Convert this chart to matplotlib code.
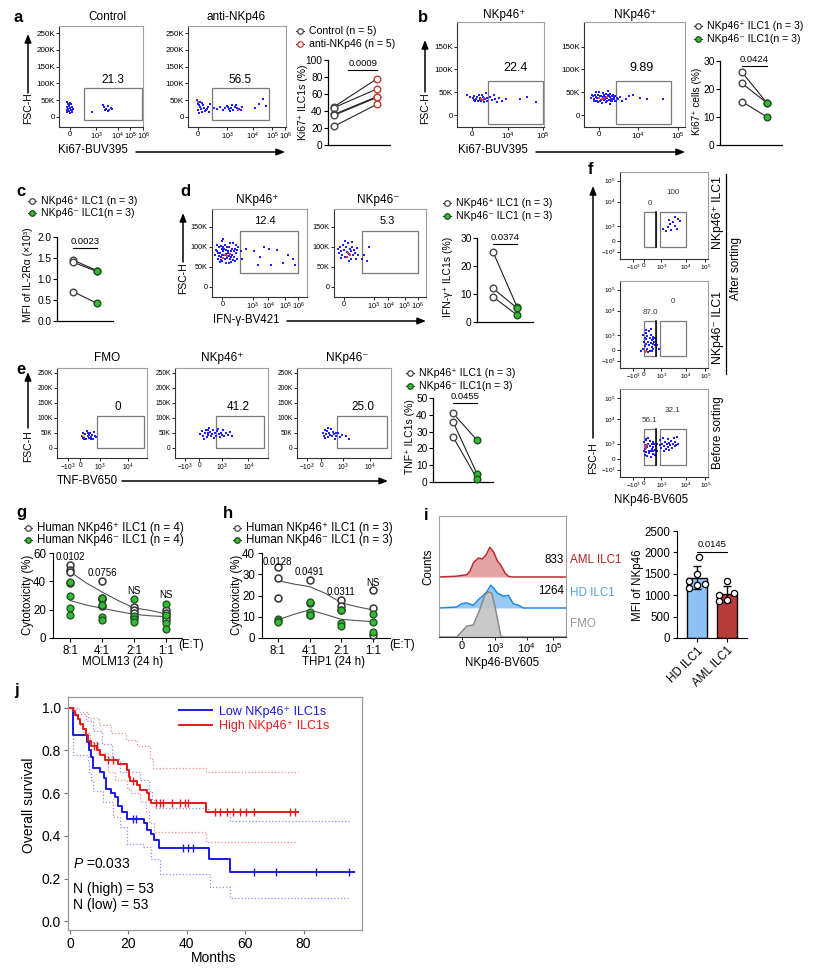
import numpy as np
import matplotlib
matplotlib.use("Agg")
import matplotlib.pyplot as plt
from matplotlib.patches import Rectangle

plt.rcParams["font.family"] = ["Liberation Sans", "DejaVu Sans"]
plt.rcParams["mathtext.fontset"] = "custom"
plt.rcParams["mathtext.rm"] = "Liberation Sans"
plt.rcParams["mathtext.it"] = "Liberation Sans:italic"
plt.rcParams["mathtext.bf"] = "Liberation Sans:bold"

# ---------------- data ----------------
# a - flow (x in channel units 0-100, y = FSC-H in K)
a_ctrl_x = [10, 11, 12, 10, 13, 11, 14, 12, 10, 13, 15, 16, 12, 14, 17, 11, 15, 13, 9, 16,
            39, 52, 54, 56, 58, 60, 62, 58, 55, 63]
a_ctrl_y = [45, 40, 35, 30, 28, 25, 22, 18, 15, 12, 20, 30, 32, 38, 25, 20, 15, 42, 22, 18,
            15, 35, 30, 25, 32, 20, 28, 18, 22, 24]
a_anti_x = [9, 10, 11, 12, 13, 10, 14, 15, 12, 16, 18, 20, 22, 17, 11, 19, 21, 14,
            27, 30, 33, 36, 38, 40, 42, 44, 45, 46, 48, 50, 52, 54, 55, 43, 41, 49, 72, 77, 80, 68]
a_anti_y = [50, 40, 35, 30, 25, 20, 15, 35, 45, 28, 22, 30, 38, 18, 12, 25, 15, 42,
            28, 25, 30, 22, 26, 32, 24, 28, 35, 20, 30, 27, 25, 22, 30, 18, 30, 35, 40, 52, 32, 28]
a_anti_red_x = [10, 51]
a_anti_red_y = [45, 20]
a_ctrl_pct = [45, 44, 36, 35, 22]
a_anti_pct = [78, 66, 57, 56, 48]

# b
b1_x = [12, 15, 18, 20, 22, 24, 25, 27, 28, 30, 31, 32, 33, 26, 23, 21, 19, 29, 34, 35,
        38, 40, 42, 44, 46, 48, 52, 56, 72, 80, 91]
b1_y = [45, 40, 38, 42, 35, 30, 45, 38, 32, 40, 28, 35, 48, 33, 39, 30, 34, 44, 30, 38,
        40, 33, 45, 36, 28, 38, 32, 35, 35, 40, 28]
b1_red_x = [28, 30, 31]
b1_red_y = [36, 34, 37]
b2_x = [7, 9, 10, 12, 13, 14, 15, 16, 17, 18, 19, 20, 21, 22, 23, 24, 25, 26, 27, 28,
        29, 30, 31, 33, 12, 18, 24, 11, 20, 26,
        8, 10, 11, 13, 14, 15, 16, 17, 19, 21, 22, 23, 25, 26, 27, 28, 29, 30, 31, 32,
        34, 36, 38, 42, 45, 49, 55, 62, 78]
b2_y = [38, 42, 35, 40, 32, 45, 38, 30, 42, 36, 48, 33, 40, 28, 37, 44, 34, 39, 30, 42,
        36, 40, 32, 38, 50, 26, 52, 30, 45, 25,
        45, 30, 44, 37, 28, 50, 41, 34, 39, 35, 46, 31, 41, 46, 36, 32, 44, 35, 42, 30,
        36, 40, 32, 36, 42, 45, 38, 36, 36]
b2_red_x = [15, 20, 23, 18]
b2_red_y = [38, 37, 40, 35]
b_pos_pct = [26, 22, 15.5]
b_neg_pct = [15, 15, 10]

# c
c_pos = [1.45, 1.40, 0.70]
c_neg = [1.20, 1.18, 0.42]

# d
d1_x = [3, 5, 6, 7, 8, 9, 10, 11, 12, 13, 14, 15, 16, 17, 18, 19, 20, 21, 22, 23,
        24, 25, 26, 27, 10, 15, 20, 5, 12, 18, 24, 8,
        4, 6, 9, 11, 13, 14, 16, 17, 18, 19, 21, 22, 23, 25, 26, 7, 9, 15, 20, 12,
        30, 32, 36, 44, 50, 55, 60, 68, 75, 80, 85, 87, 62, 48]
d1_y = [80, 90, 70, 100, 85, 75, 95, 65, 88, 78, 105, 92, 72, 84, 98, 68, 90, 80, 110, 75,
        95, 85, 70, 100, 115, 60, 62, 105, 120, 58, 65, 62,
        92, 84, 102, 78, 94, 70, 100, 88, 76, 108, 94, 66, 88, 104, 92, 76, 66, 82, 74, 98,
        88, 70, 95, 90, 75, 100, 95, 92, 60, 80, 70, 55, 55, 55]
d1_red_x = [14, 16, 12, 19]
d1_red_y = [80, 76, 72, 82]
d2_x = [4, 5, 7, 8, 9, 10, 11, 12, 13, 14, 15, 16, 17, 18, 19, 20, 21, 22, 23, 24,
        25, 26, 12, 16, 20, 8, 30, 33, 36, 38]
d2_y = [95, 85, 100, 90, 80, 105, 92, 75, 98, 86, 110, 82, 95, 70, 88, 100, 78, 92, 84, 68,
        96, 80, 115, 65, 112, 72, 70, 78, 65, 100]
d2_red_x = [15, 17, 14]
d2_red_y = [85, 78, 75]
d_pos_pct = [25, 12, 9]
d_neg_pct = [5.5, 5.0, 2.5]

# e
e1_x = [28, 29, 30, 31, 32, 33, 34, 35, 36, 37, 38, 39, 40, 41, 42, 43, 30, 34, 38, 29]
e1_y = [40, 50, 35, 45, 30, 55, 38, 42, 32, 48, 36, 44, 30, 52, 40, 35, 28, 50, 28, 33]
e1_yel_x = [29, 30]
e1_yel_y = [42, 38]
e2_x = [27, 29, 30, 32, 33, 34, 35, 36, 37, 38, 39, 40, 41, 42, 43, 44, 45, 46, 47, 48,
        49, 50, 52, 53, 55, 57, 59, 61, 31, 36]
e2_y = [45, 55, 40, 50, 60, 35, 48, 42, 65, 52, 38, 45, 58, 32, 50, 40, 55, 62, 45, 35,
        50, 42, 58, 38, 48, 44, 52, 40, 30, 58]
e3_x = [28, 29, 30, 31, 32, 33, 34, 35, 36, 37, 38, 39, 40, 41, 42, 44, 46, 48, 52, 55, 33, 30]
e3_y = [50, 40, 60, 45, 55, 35, 48, 42, 62, 38, 52, 45, 30, 50, 40, 48, 36, 44, 38, 30, 65, 32]
e_pos_pct = [41, 36, 27]
e_neg_pct = [25, 5, 2]

# f (both axes in channel units)
f1_x = [49, 52, 54, 56, 57, 58, 60, 62, 63, 65, 66, 68]
f1_y = [34, 32, 37, 45, 40, 33, 42, 38, 48, 35, 46, 44]
f2_x = [26, 27, 28, 28, 29, 30, 30, 31, 31, 32, 33, 33, 34, 34, 35, 35, 36, 36, 37, 37,
        38, 38, 39, 40, 40, 29, 32, 36, 41, 42, 26, 24, 44, 30, 35]
f2_y = [38, 30, 35, 25, 40, 28, 33, 22, 37, 30, 26, 42, 34, 20, 29, 38, 32, 24, 36, 28,
        33, 22, 30, 35, 26, 19, 18, 19, 31, 27, 22, 20, 22, 44, 45]
f2_red_x = [28, 29]
f2_red_y = [18, 20]
f3_x = [27, 28, 28, 29, 30, 30, 31, 31, 32, 33, 33, 34, 34, 35, 35, 36, 36, 37, 37, 38,
        38, 39, 40, 40, 41, 42, 42, 27, 29, 32,
        45, 46, 47, 48, 49, 50, 51, 52, 53, 54, 55, 56, 57, 58, 59, 60, 61, 62, 63, 64,
        65, 66, 50, 56]
f3_y = [40, 32, 25, 36, 28, 42, 34, 24, 38, 30, 27, 35, 41, 29, 23, 37, 32, 26, 40, 34,
        29, 37, 31, 25, 35, 30, 38, 30, 43, 44,
        36, 42, 33, 38, 44, 35, 40, 32, 37, 43, 34, 39, 36, 41, 33, 38, 44, 35, 40, 36,
        46, 38, 30, 31]
f3_red_x = [29, 30, 31]
f3_red_y = [35, 33, 36]

# g / h cytotoxicity
ratios = ["8:1", "4:1", "2:1", "1:1"]
g_pos = [[51.5, 48, 46.5, 38.5], [40.5, 28, 27.5, 22.5], [22, 20, 17.5, 15], [20, 18, 15, 12.5]]
g_neg = [[39.5, 30, 21.5, 16.5], [28.5, 23, 15, 13], [27.5, 15.5, 13.5, 11], [24, 16, 10.5, 6.5]]
g_fit_x = [0, 0.5, 1, 1.5, 2, 2.5, 3]
g_fit_pos = [46.8, 39, 32.5, 26.5, 21.2, 19.5, 17]
g_fit_neg = [26.5, 23.3, 21, 18.8, 16.7, 15.7, 15]
g_p = ["0.0102", "0.0756", "NS", "NS"]
g_p_y = [57.4, 46, 33.4, 30.1]
h_pos = [[33.3, 28.1, 18.7], [27.3, 16.5, 11], [18, 15, 13], [22.6, 14.3, 1.5]]
h_neg = [[8.8, 8.0, 7.4], [17, 12.4, 10.8], [13, 7, 5.6], [11.3, 7.7, 2.8]]
h_fit_pos = [27, 25.4, 24.2, 21, 16.6, 14.7, 13.2]
h_fit_neg = [8.5, 11.1, 13.2, 11.1, 8.8, 8.2, 7.7]
h_p = ["0.0128", "0.0491", "0.0311", "NS"]
h_p_y = [35.8, 31.2, 21.5, 26]

# i histograms (x channel, heights in relative counts)
fmo_x = [14, 22, 27, 32, 36, 39, 41.5, 44, 46.7, 48.6, 50]
fmo_h = [0, 11, 12, 27, 42, 45, 44, 31, 14, 1, 0]
hd_x = [13.9, 17.8, 21.8, 27.0, 31.0, 34.9, 37.5, 40.7, 42.8, 45.9, 50.7, 54.6, 58.5, 62.5, 66.4]
hd_h = [1, 4.3, 5, 2.7, 8.3, 12.7, 16, 22.7, 20.3, 15, 11.7, 12.7, 4.3, 2.7, 0]
aml_x = [13, 22, 24.5, 27, 31, 34, 37, 40, 43, 46, 48.6, 52, 54.6, 58]
aml_h = [0.7, 2.3, 6, 14, 19, 18, 22, 29.6, 25, 16, 12, 4, 0.7, 0]
hd_mfi = [1900, 1500, 1330, 1270, 1250, 1170]
aml_mfi = [1330, 1050, 1010, 880, 870]
hd_jit = [0.07, 0.0, -0.27, 0.27, 0.0, -0.27]
aml_jit = [0.0, 0.25, -0.27, 0.0, -0.25]

# j Kaplan-Meier
low_t = [0, 1.1, 5.9, 6.6, 7.2, 8.0, 10.3, 11.6, 12.3, 14.0, 15.4, 16.5, 17.9, 19.4,
         25.3, 26.2, 27.9, 28.7, 30.5, 47.6, 54.7, 97.1]
low_s = [1.0, 0.87, 0.84, 0.80, 0.77, 0.72, 0.70, 0.67, 0.62, 0.60, 0.58, 0.54, 0.51, 0.48,
         0.46, 0.43, 0.41, 0.38, 0.345, 0.29, 0.23, 0.23]
low_cens = [21.7, 22.6, 38.7, 40.4, 42.2, 62.9, 70.7, 84.1, 95.7]
high_t = [0, 1.1, 1.7, 2.85, 3.4, 4.3, 5.5, 6.3, 7.1, 9.3, 10.3, 12.0, 16.5, 19.4, 20.3,
          20.7, 22.8, 23.9, 26.2, 27.0, 27.9, 46.7, 78.1]
high_s = [1.0, 0.985, 0.965, 0.945, 0.925, 0.90, 0.87, 0.845, 0.82, 0.80, 0.78, 0.755, 0.735,
          0.71, 0.675, 0.655, 0.64, 0.615, 0.60, 0.57, 0.555, 0.51, 0.51]
high_cens = [8.3, 9.1, 13.1, 14.8, 21.7, 29.6, 30.8, 31.9, 34.8, 37.6, 39.3, 40.4, 49.6,
             51.3, 53.6, 55.8, 58.1, 60.4, 62.9, 75.2, 76.9]
red_up_t = [0, 3, 6, 10, 14, 19, 23, 27.5, 28.5, 46.5, 78]
red_up_s = [1.0, 0.98, 0.95, 0.92, 0.88, 0.85, 0.82, 0.76, 0.72, 0.70, 0.70]
red_lo_t = [0, 2, 3, 4.5, 7, 9.5, 13, 15.4, 19.4, 21, 24, 26, 27, 28.7, 46.7, 77]
red_lo_s = [1.0, 0.95, 0.92, 0.88, 0.84, 0.79, 0.70, 0.66, 0.62, 0.60, 0.56, 0.51, 0.46, 0.42, 0.37, 0.37]
blue_up_t = [0, 1.5, 5.5, 8, 11, 14.4, 17, 24, 27, 28, 29.6, 47.3, 54.7, 95.7]
blue_up_s = [1.0, 0.97, 0.94, 0.89, 0.83, 0.76, 0.70, 0.66, 0.61, 0.57, 0.53, 0.51, 0.47, 0.47]
blue_lo_t = [0, 1.1, 6, 6.6, 7.3, 8, 11.3, 14.8, 17, 19.4, 25, 27.9, 30.8, 47.9, 54.7, 95.7]
blue_lo_s = [1.0, 0.78, 0.75, 0.70, 0.66, 0.61, 0.56, 0.49, 0.44, 0.36, 0.35, 0.29, 0.22, 0.16, 0.11, 0.11]

# ---------------- figure ----------------
W, H = 832, 975
fig = plt.figure(figsize=(W / 100, H / 100), dpi=100)

ov = fig.add_axes([0, 0, 1, 1], zorder=50)
ov.set_xlim(0, W)
ov.set_ylim(H, 0)
ov.axis("off")

GREEN_F, GREEN_E = "#33bb33", "#1f4f1f"
DOT = "#2020ff"


def add_ax(x0, y0, x1, y1):
    return fig.add_axes([x0 / W, 1 - y1 / H, (x1 - x0) / W, (y1 - y0) / H])


def t(x, y, s, **kw):
    kw.setdefault("ha", "left")
    kw.setdefault("va", "center")
    ov.text(x, y, s, **kw)


def arrow(x0, y0, x1, y1):
    ov.annotate("", xy=(x1, y1), xytext=(x0, y0),
                arrowprops=dict(arrowstyle="-|>,head_length=0.5,head_width=0.2",
                                color="k", lw=1.1, shrinkA=0, shrinkB=0))


def leg(x, y, s, mec, mfc, fs=7.6):
    ov.plot([x - 4, x + 4], [y, y], color="#333", lw=0.8)
    ov.plot([x], [y], "o", ms=4, mec=mec, mfc=mfc, mew=0.9)
    t(x + 9, y, s, fontsize=fs)


def flow(box, xs, ys, ylim, yt, ytl, xt, xtl, extra=None, fs=5.8, xfs=None, gates=()):
    ax = add_ax(*box)
    ax.scatter(xs, ys, s=2.2, marker="s", color=DOT, linewidths=0, zorder=3)
    if extra is not None:
        ax.scatter(extra[0], extra[1], s=2.6, marker="s", color=extra[2], linewidths=0, zorder=4)
    for g in gates:
        ax.add_patch(Rectangle((g[0], g[2]), g[1] - g[0], g[3] - g[2], fill=False,
                               ec="#7a7a7a", lw=0.9, zorder=2))
    ax.set_xlim(0, 100)
    ax.set_ylim(*ylim)
    ax.set_xticks(xt)
    ax.set_xticklabels(xtl)
    ax.set_yticks(yt)
    ax.set_yticklabels(ytl)
    ax.tick_params(labelsize=fs, length=2, width=0.6, pad=1)
    if xfs:
        ax.tick_params(axis="x", labelsize=xfs)
    for s in ax.spines.values():
        s.set_color("#a0a0a0")
        s.set_linewidth(0.8)
    ax.spines["left"].set_color("#333333")
    ax.spines["bottom"].set_color("#333333")
    return ax


def paired(box, xlim, ylim, yt, ytl, left, right, rcol, rface, pval, py, bx=(0, 1)):
    ax = add_ax(*box)
    for a, b in zip(left, right):
        ax.plot([0, 1], [a, b], color="#222", lw=0.8, zorder=1)
    ax.plot([0] * len(left), left, "o", ms=4.8, mfc="white", mec="#444", mew=1, zorder=2, clip_on=False)
    ax.plot([1] * len(right), right, "o", ms=4.8, mfc=rface, mec=rcol, mew=1, zorder=3, clip_on=False)
    ax.plot(bx, [py, py], color="k", lw=0.8, clip_on=False)
    ax.text(np.mean(bx), py + (ylim[1] - ylim[0]) * 0.02, pval, ha="center", va="bottom", fontsize=6.8)
    ax.set_xlim(*xlim)
    ax.set_ylim(*ylim)
    ax.set_yticks(yt)
    ax.set_yticklabels(ytl)
    ax.set_xticks([])
    ax.spines[["top", "right"]].set_visible(False)
    for s in ("left", "bottom"):
        ax.spines[s].set_linewidth(0.9)
    ax.tick_params(axis="y", labelsize=7.3, length=3, width=0.8, pad=1)
    return ax


K_LAB = ["0", "50K", "100K", "150K", "200K", "250K"]
K_TK = [0, 50, 100, 150, 200, 250]
E3 = r"$10^3$"
E4 = r"$10^4$"
E5 = r"$10^5$"
E6 = r"$10^6$"
M3 = r"$-10^3$"

# ---------- panel a ----------
t(14, 17, "a", fontsize=12, fontweight="bold")
t(107, 17, "Control", fontsize=8.5, ha="center")
t(236, 17, "anti-NKp46", fontsize=8.5, ha="center")
flow((59, 26, 143, 127), a_ctrl_x, a_ctrl_y, (-30, 271), K_TK, K_LAB,
     [13, 44, 70, 85, 100], ["0", E3, E4, E5, E6], xfs=5.3, gates=[(30, 99, -9, 86)])
flow((188, 26, 286, 127), a_anti_x, a_anti_y, (-30, 271), K_TK, K_LAB,
     [10, 40, 66, 86, 99], ["0", E3, E4, E5, E6], xfs=5.3,
     extra=(a_anti_red_x, a_anti_red_y, "#ff4020"), gates=[(24, 83, -9, 86)])
t(113, 80, "21.3", fontsize=8.5, ha="center")
t(240, 80, "56.5", fontsize=8.5, ha="center")
t(28, 108, "FSC-H", fontsize=7.5, rotation=90, ha="center")
arrow(28, 93, 28, 34)
t(58, 150, "Ki67-BUV395", fontsize=8.3)
arrow(136, 152, 285, 152)

paired((328, 60, 390, 145), (-0.14, 1.30), (0, 100), [0, 20, 40, 60, 80, 100],
       ["0", "20", "40", "60", "80", "100"], a_ctrl_pct, a_anti_pct, "#c43a2e", "white",
       "0.0009", 88, bx=(0.33, 1.0))
t(303, 102, "Ki67⁺ ILC1s (%)", fontsize=7.5, rotation=90, ha="center")
leg(300, 31, "Control (n = 5)", "#444", "white")
leg(300, 44, "anti-NKp46 (n = 5)", "#c43a2e", "white")

# ---------- panel b ----------
t(418, 17, "b", fontsize=12, fontweight="bold")
t(504, 15, "NKp46⁺", fontsize=8.5, ha="center")
t(635, 15, "NKp46⁺", fontsize=8.5, ha="center")
flow((457, 22, 544, 127), b1_x, b1_y, (-26, 204), [0, 50, 100, 150], K_LAB[:4],
     [17, 59, 99], ["0", E4, E5], extra=(b1_red_x, b1_red_y, "#ff4020"),
     gates=[(36, 99, -19, 75)])
flow((584, 22, 685, 127), b2_x, b2_y, (-26, 204), [0, 50, 100, 150], K_LAB[:4],
     [15, 53, 93], ["0", E4, E5], extra=(b2_red_x, b2_red_y, "#ff4020"),
     gates=[(32, 86, -19, 75)])
t(515, 68, "22.4", fontsize=9, ha="center")
t(642, 68, "9.89", fontsize=9, ha="center")
t(425, 108, "FSC-H", fontsize=7.5, rotation=90, ha="center")
arrow(425, 92, 425, 40)
t(458, 150, "Ki67-BUV395", fontsize=8.3)
arrow(536, 152, 685, 152)

paired((720, 61, 782, 145), (-0.88, 1.6), (0, 30), [0, 10, 20, 30], ["0", "10", "20", "30"],
       b_pos_pct, b_neg_pct, GREEN_E, GREEN_F, "0.0424", 28.3)
t(697, 101, "Ki67⁺ cells (%)", fontsize=7.3, rotation=90, ha="center")
leg(698, 26, "NKp46⁺ ILC1 (n = 3)", "#444", "white")
leg(698, 39, "NKp46⁻ ILC1(n = 3)", GREEN_E, GREEN_F)

# ---------- panel c ----------
t(16, 192, "c", fontsize=12, fontweight="bold")
leg(32, 201, "NKp46⁺ ILC1 (n = 3)", "#444", "white")
leg(32, 213, "NKp46⁻ ILC1(n = 3)", GREEN_E, GREEN_F)
paired((57, 237, 113, 321), (-0.67, 1.67), (0, 2.0), [0, 0.5, 1.0, 1.5, 2.0],
       ["0.0", "0.5", "1.0", "1.5", "2.0"], c_pos, c_neg, GREEN_E, GREEN_F, "0.0023", 1.75)
t(28, 275, "MFI of IL-2Rα (×10³)", fontsize=7.5, rotation=90, ha="center")

# ---------- panel d ----------
t(180, 192, "d", fontsize=12, fontweight="bold")
t(257, 200, "NKp46⁺", fontsize=8.5, ha="center")
t(378, 200, "NKp46⁻", fontsize=8.5, ha="center")
flow((212, 209, 307, 297), d1_x, d1_y, (-26, 194), [0, 50, 100, 150], K_LAB[:4],
     [11, 43, 59, 77, 91], ["0", E3, E4, E5, E6], extra=(d1_red_x, d1_red_y, "#ff3030"),
     fs=5.2, gates=[(29, 90, 34, 139)])
flow((334, 209, 426, 297), d2_x, d2_y, (-26, 194), [0, 50, 100, 150], K_LAB[:4],
     [11, 43, 59, 77, 91], ["0", E3, E4, E5, E6], extra=(d2_red_x, d2_red_y, "#ff3030"),
     fs=5.2, gates=[(30, 91, 34, 139)])
t(265, 221, "12.4", fontsize=8, ha="center")
t(387, 221, "5.3", fontsize=8, ha="center")
t(183, 278, "FSC-H", fontsize=7.5, rotation=90, ha="center")
arrow(183, 262, 183, 213)
t(213, 320, "IFN-γ-BV421", fontsize=8.3)
arrow(287, 321, 426, 321)

paired((477, 238, 533, 322), (-0.67, 1.67), (0, 30), [0, 10, 20, 30], ["0", "10", "20", "30"],
       d_pos_pct, d_neg_pct, GREEN_E, GREEN_F, "0.0374", 28)
t(448, 277, "IFN-γ⁺ ILC1s (%)", fontsize=7.5, rotation=90, ha="center")
leg(447, 203, "NKp46⁺ ILC1 (n = 3)", "#444", "white")
leg(447, 216, "NKp46⁻ ILC1 (n = 3)", GREEN_E, GREEN_F)

# ---------- panel e ----------
t(16, 369, "e", fontsize=12, fontweight="bold")
t(107, 358, "FMO", fontsize=8.5, ha="center")
t(222, 358, "NKp46⁺", fontsize=8.5, ha="center")
t(347, 358, "NKp46⁻", fontsize=8.5, ha="center")
flow((57, 368, 147, 458), e1_x, e1_y, (-34, 266), K_TK, K_LAB,
     [12, 26, 48, 79], [M3, "0", E3, E4], extra=(e1_yel_x, e1_yel_y, "#ffcc00"),
     fs=4.8, gates=[(44, 97, -2, 105)])
flow((175, 368, 268, 458), e2_x, e2_y, (-34, 266), K_TK, K_LAB,
     [11, 26, 50, 79], [M3, "0", E3, E4], fs=4.8, gates=[(44, 96, -2, 105)])
flow((297, 368, 391, 458), e3_x, e3_y, (-34, 266), K_TK, K_LAB,
     [11, 26, 49, 78], [M3, "0", E3, E4], fs=4.8, gates=[(43, 96, -2, 105)])
t(118, 407, "0", fontsize=8.5, ha="center")
t(238, 407, "41.2", fontsize=8.5, ha="center")
t(363, 407, "25.0", fontsize=8.5, ha="center")
t(28, 446, "FSC-H", fontsize=7.5, rotation=90, ha="center")
arrow(28, 428, 28, 372)
t(57, 481, "TNF-BV650", fontsize=8.3)
arrow(122, 481, 388, 481)

paired((433, 398, 493, 482), (-0.83, 1.67), (0, 50), [0, 10, 20, 30, 40, 50],
       ["0", "10", "20", "30", "40", "50"], e_pos_pct, e_neg_pct, GREEN_E, GREEN_F, "0.0455", 47)
t(410, 437, "TNF⁺ ILC1s (%)", fontsize=7.5, rotation=90, ha="center")
leg(410, 373, "NKp46⁺ ILC1 (n = 3)", "#444", "white")
leg(410, 386, "NKp46⁻ ILC1(n = 3)", GREEN_E, GREEN_F)

# ---------- panel f ----------
t(588, 170, "f", fontsize=12, fontweight="bold")
F_YT = [8.5, 21, 38, 66, 90]
F_YL = [M3, "0", E3, E4, E5]
F_XT = [15, 27, 47, 75, 97]
F_XL = [M3, "0", E3, E4, E5]
for box, xs, ys, ex, labs in [
        ((620, 172, 708, 259), f1_x, f1_y, None, ("0", "100")),
        ((620, 281, 708, 368), f2_x, f2_y, (f2_red_x, f2_red_y, "#ff3030"), ("87.0", "0")),
        ((620, 389, 708, 477), f3_x, f3_y, (f3_red_x, f3_red_y, "#ff3030"), ("56.1", "32.1"))]:
    ax = flow(box, xs, ys, (0, 100), F_YT, F_YL, F_XT, F_XL, extra=ex, fs=4.6,
              gates=[(27, 41, 14, 54), (45.5, 75, 14, 54)])
    ax.plot([41, 41], [14, 54], color="k", lw=1.1, zorder=5)
    ax.text(34, 60, labs[0], fontsize=5.8, ha="center", va="bottom", color="#333")
    ax.text(60, 72, labs[1], fontsize=5.8, ha="center", va="bottom", color="#333")
t(718, 213, "NKp46⁺ ILC1", fontsize=8.8, rotation=90, ha="center")
t(718, 327, "NKp46⁻ ILC1", fontsize=8.8, rotation=90, ha="center")
ov.plot([726, 726], [174, 374], color="k", lw=0.9)
t(736, 268, "After sorting", fontsize=8.4, rotation=90, ha="center")
t(718, 433, "Before sorting", fontsize=8.4, rotation=90, ha="center")
t(593, 458, "FSC-H", fontsize=7.5, rotation=90, ha="center")
arrow(593, 438, 593, 186)
t(651, 500, "NKp46-BV605", fontsize=8.3, ha="center")


# ---------- panels g, h ----------
def cyto(box, ylim, yt, pos, neg, fit_pos, fit_neg, pvals, py, xlim):
    ax = add_ax(*box)
    for i in range(4):
        ax.plot([i] * len(pos[i]), pos[i], "o", ms=5, mfc="white", mec="#333", mew=1.1,
                zorder=3, clip_on=False)
        ax.plot([i] * len(neg[i]), neg[i], "o", ms=5, mfc=GREEN_F, mec=GREEN_E, mew=0.9,
                zorder=4, clip_on=False)
        ax.text(i, py[i], pvals[i], ha="center", va="center", fontsize=7)
    ax.plot(g_fit_x, fit_pos, color="#555", lw=0.8, zorder=2)
    ax.plot(g_fit_x, fit_neg, color="#555", lw=0.8, zorder=2)
    ax.set_xlim(*xlim)
    ax.set_ylim(*ylim)
    ax.set_yticks(yt)
    ax.set_xticks(range(4))
    ax.set_xticklabels(ratios)
    ax.spines[["top", "right"]].set_visible(False)
    ax.tick_params(labelsize=8.3, length=3, width=0.8, pad=2)
    return ax


t(16, 513, "g", fontsize=12, fontweight="bold")
leg(28, 528, "Human NKp46⁺ ILC1 (n = 4)", "#444", "white", fs=8.3)
leg(28, 540, "Human NKp46⁻ ILC1 (n = 4)", GREEN_E, GREEN_F, fs=8.3)
cyto((53, 553, 182, 638), (0, 60), [0, 20, 40, 60], g_pos, g_neg, g_fit_pos, g_fit_neg,
     g_p, g_p_y, (-0.53, 3.5))
t(28, 595, "Cytotoxicity (%)", fontsize=8.3, rotation=90, ha="center")
t(178, 645, "(E:T)", fontsize=8.3)
t(123, 662, "MOLM13 (24 h)", fontsize=8.3, ha="center")

t(223, 513, "h", fontsize=12, fontweight="bold")
leg(237, 528, "Human NKp46⁺ ILC1 (n = 3)", "#444", "white", fs=8.3)
leg(237, 540, "Human NKp46⁻ ILC1 (n = 3)", GREEN_E, GREEN_F, fs=8.3)
cyto((262, 553, 390, 638), (0, 40), [0, 10, 20, 30, 40], h_pos, h_neg, h_fit_pos, h_fit_neg,
     h_p, h_p_y, (-0.5, 3.54))
t(237, 595, "Cytotoxicity (%)", fontsize=8.3, rotation=90, ha="center")
t(389, 645, "(E:T)", fontsize=8.3)
t(333, 662, "THP1 (24 h)", fontsize=8.3, ha="center")

# ---------- panel i ----------
t(424, 515, "i", fontsize=12, fontweight="bold")
axh = add_ax(439, 516, 566, 637)
for xs, hs, base, lc, fc in [(aml_x, aml_h, 60, "#c0262d", "#e09a9a"),
                             (hd_x, hd_h, 29, "#1e88e5", "#8cc4f2"),
                             (fmo_x, fmo_h, 0, "#8a8a8a", "#c4c4c4")]:
    xx = np.concatenate([[0], xs, [100]])
    hh = np.concatenate([[0], hs, [0]]) + base
    axh.fill_between(xx, base, hh, color=fc, alpha=0.9, lw=0)
    axh.plot(xx, hh, color=lc, lw=1.1)
axh.set_xlim(0, 100)
axh.set_ylim(0, 121)
axh.set_yticks([])
axh.set_xticks([18, 44, 69, 90])
axh.set_xticklabels(["0", E3, E4, E5])
axh.tick_params(labelsize=8, length=2, width=0.6, pad=1)
for s in axh.spines.values():
    s.set_color("#a0a0a0")
axh.spines["bottom"].set_color("#333")
t(564, 560, "833", fontsize=8.4, ha="right")
t(570, 560, "AML ILC1", fontsize=8.4, color="#b22222")
t(564, 591, "1264", fontsize=8.4, ha="right")
t(570, 593, "HD ILC1", fontsize=8.4, color="#4aa3f0")
t(570, 624, "FMO", fontsize=8.4, color="#999999")
t(428, 567, "Counts", fontsize=8.3, rotation=90, ha="center")
t(502, 663, "NKp46-BV605", fontsize=8.3, ha="center")

axb = add_ax(677, 531, 747, 638)
groups = [hd_mfi, aml_mfi]
means = [np.mean(g) for g in groups]
sds = [np.std(g, ddof=1) for g in groups]
axb.bar([0, 1], means, width=0.67, color=["#8ec1f5", "#b83c3c"], edgecolor="k", lw=1, zorder=1)
axb.errorbar([0, 1], means, yerr=sds, fmt="none", ecolor="k", elinewidth=1, capsize=3, zorder=2)
axb.plot(np.array(hd_jit), hd_mfi, "o", ms=4.5, mfc="white", mec="k", mew=0.9, zorder=3, clip_on=False)
axb.plot(1 + np.array(aml_jit), aml_mfi, "o", ms=4.5, mfc="white", mec="k", mew=0.9, zorder=3, clip_on=False)
axb.plot([0, 1], [2020, 2020], color="k", lw=0.8)
axb.text(0.5, 2080, "0.0145", ha="center", va="bottom", fontsize=6.8)
axb.set_xlim(-0.67, 1.67)
axb.set_ylim(0, 2500)
axb.set_yticks([0, 500, 1000, 1500, 2000, 2500])
axb.set_xticks([0, 1])
axb.set_xticklabels(["HD ILC1", "AML ILC1"], rotation=45, ha="right", rotation_mode="anchor")
axb.spines[["top", "right"]].set_visible(False)
axb.tick_params(labelsize=8.3, length=3, width=0.8, pad=2)
t(638, 585, "MFI of NKp46", fontsize=8.3, rotation=90, ha="center")

# ---------- panel j ----------
t(14, 690, "j", fontsize=12, fontweight="bold")
axj = add_ax(68, 697, 362, 930)
axj.step(blue_up_t, blue_up_s, where="post", color="#8c8cf0", lw=0.9, ls=":")
axj.step(blue_lo_t, blue_lo_s, where="post", color="#8c8cf0", lw=0.9, ls=":")
axj.step(red_up_t, red_up_s, where="post", color="#f08c8c", lw=0.9, ls=":")
axj.step(red_lo_t, red_lo_s, where="post", color="#f08c8c", lw=0.9, ls=":")
axj.step(low_t, low_s, where="post", color="#1a1ae6", lw=1.4, label="Low NKp46⁺ ILC1s")
axj.step(high_t, high_s, where="post", color="#e61a1a", lw=1.4, label="High NKp46⁺ ILC1s")
for tt, ss, times, col in [(low_t, low_s, low_cens, "#1a1ae6"), (high_t, high_s, high_cens, "#e61a1a")]:
    idx = np.searchsorted(tt, times, side="right") - 1
    axj.plot(times, np.array(ss)[idx], "|", ms=6, mew=1.0, color=col)
axj.set_xlim(-0.7, 100)
axj.set_ylim(-0.04, 1.05)
axj.set_xticks([0, 20, 40, 60, 80])
axj.set_yticks([0, 0.2, 0.4, 0.6, 0.8, 1.0])
axj.set_yticklabels(["0.0", "0.2", "0.4", "0.6", "0.8", "1.0"])
axj.tick_params(labelsize=10, length=3, width=0.8, pad=2, color="#777")
for s in axj.spines.values():
    s.set_color("#999999")
    s.set_linewidth(0.9)
lg = axj.legend(loc="upper right", bbox_to_anchor=(0.92, 1.0), frameon=False, fontsize=9,
                handlelength=2.6, handletextpad=0.6, labelspacing=0.2, borderaxespad=0.3)
for txt, col in zip(lg.get_texts(), ["#1a1ae6", "#e61a1a"]):
    txt.set_color(col)
t(73, 864, "$P$ =0.033", fontsize=10)
t(73, 889, "N (high) = 53", fontsize=10)
t(73, 905, "N (low) = 53", fontsize=10)
t(29, 805, "Overall survival", fontsize=10, rotation=90, ha="center")
t(214, 958, "Months", fontsize=10, ha="center")

fig.savefig("out.png", dpi=100)
